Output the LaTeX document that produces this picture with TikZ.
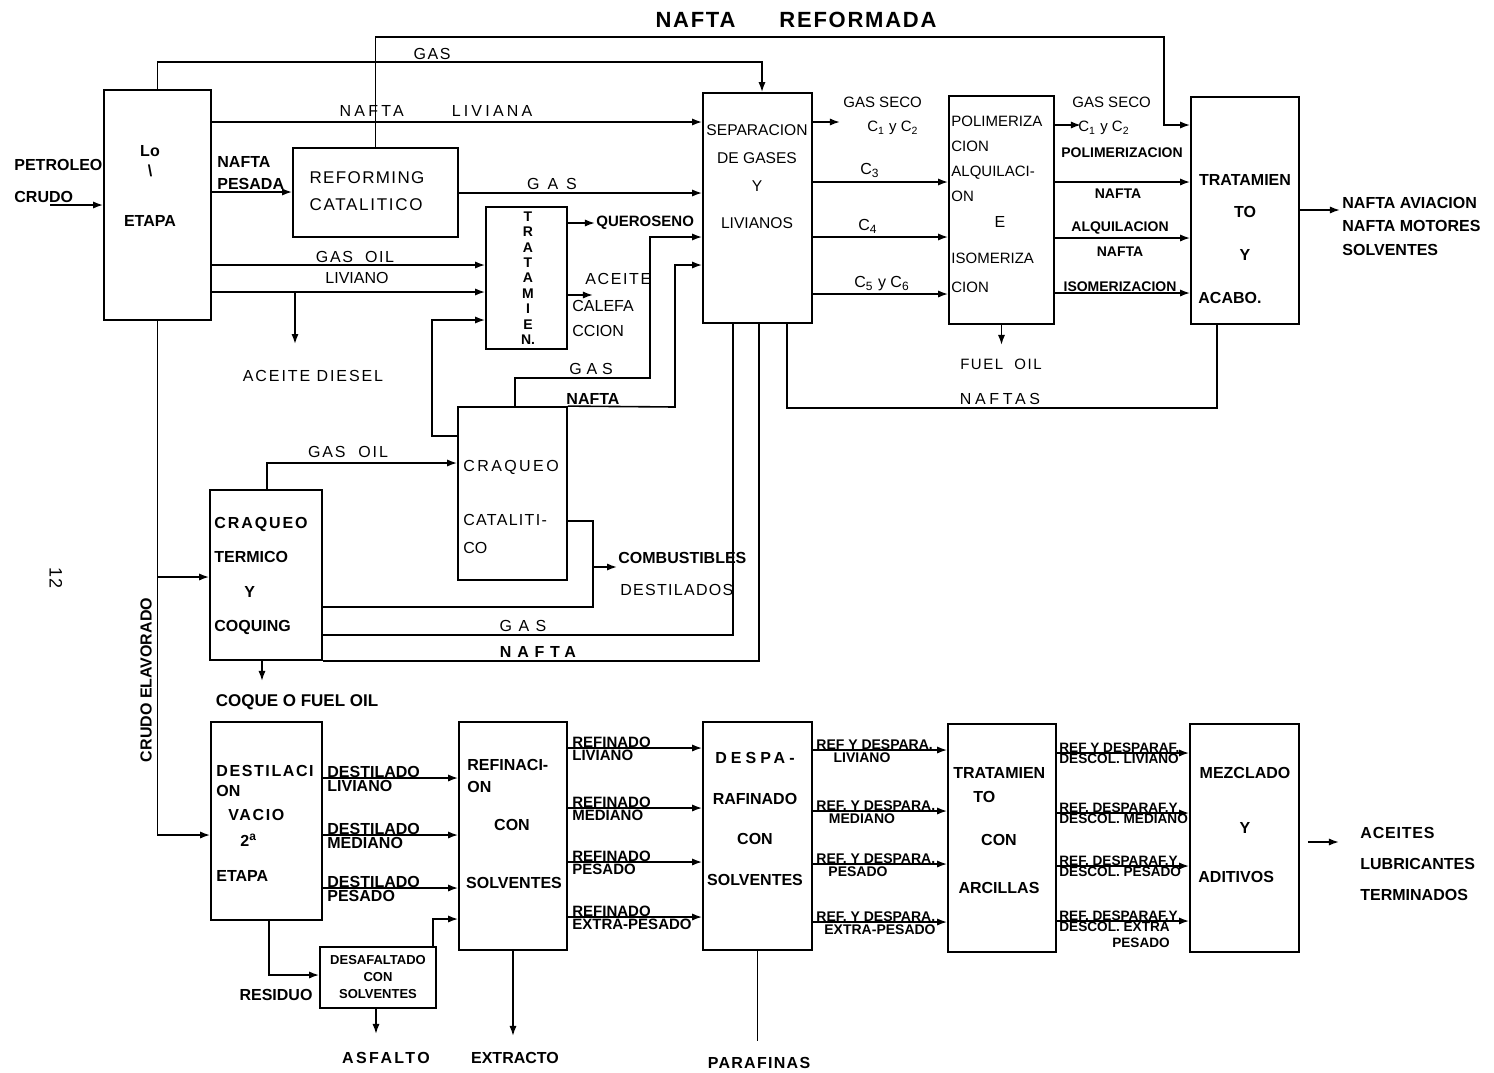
\documentclass[tikz,border=0pt]{standalone}
\usepackage{fontspec}
\setmainfont{Liberation Sans}
\usetikzlibrary{arrows.meta,fit,calc}
\newcommand\lsp[2]{{\addfontfeature{LetterSpace=#1}#2}}

\begin{document}
\begin{tikzpicture}[x=0.5pt,y=-0.5pt,
		box/.style={draw,line width=0.9pt,inner sep=0pt},
		flow/.style={line width=0.8pt,-{Latex[length=5pt,width=3.6pt]}},
		pipe/.style={line width=0.8pt},
		lbl/.style={inner sep=0pt,font=\fontsize{8}{9.6}\selectfont},
		blbl/.style={inner sep=0pt,font=\fontsize{8}{9.6}\selectfont\bfseries},
		tag/.style={inner sep=0pt,font=\fontsize{7}{8}\selectfont\bfseries}
		]
		\fill[white] (0,0) rectangle (1494,1072);
		\useasboundingbox (0,0) rectangle (1494,1072);
		% boxes
		\node[box,fit={(104,90) (211,320)}] (etapa) {};
		\node[box,fit={(293,148) (458,237)}] (reform) {};
		\node[box,fit={(486,207) (567,349)}] (trat) {};
		\node[box,fit={(703,93) (812,323)}] (separ) {};
		\node[box,fit={(949,96) (1054,324)}] (polim) {};
		\node[box,fit={(1191,97) (1299,324)}] (acabo) {};
		\node[box,fit={(458,407) (567,580)}] (catal) {};
		\node[box,fit={(210,490) (322,660)}] (termi) {};
		\node[box,fit={(211,722) (322,920)}] (vacio) {};
		\node[box,fit={(320,947) (436,1008)}] (desasf) {};
		\node[box,fit={(459,722) (567,950)}] (refin) {};
		\node[box,fit={(703,722) (812,950)}] (despar) {};
		\node[box,fit={(948,724) (1056,952)}] (arcil) {};
		\node[box,fit={(1190,724) (1299,952)}] (mezcl) {};
		% box texts
		\node[lbl,font=\fontsize{8}{10}\selectfont\bfseries,align=center] (t-etapa) at (150,186) {Lo\\\textbackslash\\[15pt]ETAPA};
		\node[lbl,font=\fontsize{8.5}{13.5}\selectfont,align=left] (t-reform) at (367,191) {\lsp{8}{REFORMING}\\\lsp{10}{CATALITICO}};
		\node[lbl,font=\fontsize{7}{7.7}\selectfont\bfseries,align=center] (t-trat) at (528,278) {T\\R\\A\\T\\A\\M\\I\\E\\N.};
		\node[lbl,font=\fontsize{7.8}{14}\selectfont,align=center] (t-separ) at (757,177) {SEPARACION\\DE GASES\\Y\\[4.5pt]LIVIANOS};
		\node[lbl,font=\fontsize{7.5}{12.4}\selectfont,anchor=west,align=left] (t-polim) at (951,159) {POLIMERIZA\\CION\\ALQUILACI-\\ON};
		\node[lbl] (t-polim-e) at (1000,222) {E};
		\node[lbl,font=\fontsize{7.5}{14.5}\selectfont,anchor=west,align=left] (t-isom) at (951,273) {ISOMERIZA\\CION};
		\node[blbl,font=\fontsize{8}{16}\selectfont\bfseries,align=center] (t-acabo) at (1245,217) {TRATAMIEN\\TO\\[5.5pt]Y};
		\node[blbl,anchor=west] (t-acabo2) at (1198,298) {ACABO.};
		\node[lbl,font=\fontsize{8}{14}\selectfont,anchor=west,align=left] (t-catal) at (463,507) {\lsp{15}{CRAQUEO}\\[13pt]\lsp{8}{CATALITI-}\\CO};
		\node[blbl,font=\fontsize{8}{17.3}\selectfont\bfseries,anchor=west,align=left] (t-termi) at (214,576) {\lsp{12}{CRAQUEO}\\TERMICO\\\hspace*{15pt}Y\\COQUING};
		\node[blbl,font=\fontsize{8}{10}\selectfont\bfseries,anchor=west,align=left] (t-vacio) at (216,823) {\lsp{10}{DESTILACI}\\ON\\[2pt]\hspace*{6pt}\lsp{10}{VACIO}\\[3pt]\hspace*{12pt}2\textsuperscript{a}\\[7.5pt]ETAPA};
		\node[blbl,font=\fontsize{6.5}{8.5}\selectfont\bfseries,align=center] (t-desasf) at (378,977) {DESAFALTADO\\CON\\SOLVENTES};
		\node[blbl,font=\fontsize{8}{11}\selectfont\bfseries,anchor=west,align=left] (t-refin) at (467,776) {REFINACI-\\ON};
		\node[blbl] (t-refin-con) at (512,825) {CON};
		\node[blbl] (t-refin-solv) at (514,883) {SOLVENTES};
		\node[blbl,font=\fontsize{8}{20.3}\selectfont\bfseries,align=center] (t-despar) at (755,819) {\lsp{25}{DESPA-}\\RAFINADO\\CON\\SOLVENTES};
		\node[blbl,font=\fontsize{8}{12}\selectfont\bfseries,anchor=west,align=left] (t-arcil) at (953,785) {TRATAMIEN\\\hspace*{10pt}TO};
		\node[blbl,font=\fontsize{8}{24}\selectfont\bfseries,align=center] (t-arcil2) at (999,864) {CON\\ARCILLAS};
		\node[blbl,font=\fontsize{8}{27.5}\selectfont\bfseries,align=center] (t-mezcl) at (1245,800) {MEZCLADO\\Y};
		\node[blbl,anchor=west] (t-aditiv) at (1198,877) {ADITIVOS};
		% petroleo crudo
		\node[blbl,anchor=west,align=left,font=\fontsize{8}{16}\selectfont\bfseries] (t-crudo) at (14,181) {PETROLEO\\CRUDO};
		\coordinate (crudo-in) at (50,205);
		\draw[flow] (crudo-in) -- (etapa.west |- crudo-in);
		% upper section
		\draw[flow] (reform.north) |- (1164,37) |- (acabo.west |- 0,125);
		\node[blbl,font=\fontsize{11}{13}\selectfont\bfseries] (t-reformada) at (796,20) {\lsp{8}{NAFTA}\hspace{22pt}\lsp{8}{REFORMADA}};
		\draw[flow] (etapa.north) |- (762,62) -- (separ.north -| 762,0);
		\node[lbl] (t-gas1) at (432,54) {\lsp{10}{GAS}};
		\draw[flow] (etapa.east |- 0,122) -- (separ.west |- 0,122);
		\node[lbl,anchor=south] (t-liviana) at (436,117) {\lsp{20}{NAFTA}\hspace{24pt}\lsp{20}{LIVIANA}};
		\draw[flow] (etapa.east |- 0,192) -- (reform.west |- 0,192);
		\node[blbl,anchor=south west,align=left,font=\fontsize{8}{11}\selectfont\bfseries] (t-pesada) at (217,190) {NAFTA\\PESADA};
		\draw[flow] (reform.east |- 0,193) -- (separ.west |- 0,193);
		\node[lbl,anchor=south] (t-gas2) at (552,190) {\lsp{50}{GAS}};
		\draw[flow] (etapa.east |- 0,265) -- (trat.west |- 0,265);
		\draw[flow] (etapa.east |- 0,292) -- (trat.west |- 0,292);
		\node[lbl,anchor=south] (t-gasoil) at (355,263) {\lsp{10}{GAS\ \ OIL}};
		\node[lbl] (t-liviano) at (357,278) {LIVIANO};
		\coordinate (diesel) at (295,292);
		\draw[flow] (diesel) -- ++(0,52);
		\node[lbl] (t-diesel) at (313,376) {\lsp{12}{ACEITE DIESEL}};
		\draw[flow] (catal.west |- 0,436) -| (432,320) -- (trat.west |- 0,320);
		\draw[flow] (trat.east |- 0,223) -- ++(27,0);
		\node[blbl,anchor=west,font=\fontsize{7.5}{9}\selectfont\bfseries] (t-querosen) at (596,223) {QUEROSENO};
		\draw[flow] (trat.east |- 0,295) -- ++(25,0);
		\node[lbl,anchor=west] (t-aceite) at (585,279) {\lsp{10}{ACEITE}};
		\node[lbl,anchor=west,align=left,font=\fontsize{8}{12.5}\selectfont] (t-calef) at (572,318) {CALEFA\\CCION};
		\draw[flow] (catal.north -| 515,0) |- (650,378) |- (separ.west |- 0,237);
		\node[lbl,anchor=south] (t-gas3) at (591,375) {\lsp{30}{GAS}};
		\draw[flow] (catal.north east) -- (675,407) |- (separ.west |- 0,265);
		\node[blbl,anchor=south] (t-nafta1) at (593,405) {NAFTA};
		% separacion -> polimerizacion
		\draw[flow] (separ.east |- 0,122) -- ++(27,0);
		\node[lbl,anchor=west,align=left,font=\fontsize{7.5}{12}\selectfont] (t-seco1) at (843,116) {GAS SECO\\\hspace*{12pt}C\textsubscript{1} y C\textsubscript{2}};
		\draw[flow] (separ.east |- 0,182) -- (polim.west |- 0,182);
		\node[lbl,anchor=south] (t-c3) at (870,178) {C\textsubscript{3}};
		\draw[flow] (separ.east |- 0,237) -- (polim.west |- 0,237);
		\node[lbl,anchor=south] (t-c4) at (868,234) {C\textsubscript{4}};
		\draw[flow] (separ.east |- 0,294) -- (polim.west |- 0,294);
		\node[lbl,anchor=south] (t-c56) at (882,291) {C\textsubscript{5}\ y\ C\textsubscript{6}};
		% polimerizacion -> acabado
		\draw[flow] (polim.east |- 0,125) -- ++(26,0);
		\node[lbl,anchor=west,align=left,font=\fontsize{7.5}{12}\selectfont] (t-seco2) at (1072,116) {GAS SECO\\\hspace*{3pt}C\textsubscript{1} y C\textsubscript{2}};
		\draw[flow] (polim.east |- 0,182) -- (acabo.west |- 0,182);
		\node[tag] (t-poli) at (1122,153) {POLIMERIZACION};
		\node[tag] (t-naf2) at (1118,194) {NAFTA};
		\draw[flow] (polim.east |- 0,238) -- (acabo.west |- 0,238);
		\node[tag] (t-alqui) at (1120,228) {ALQUILACION};
		\node[tag] (t-naf3) at (1120,252) {NAFTA};
		\draw[flow] (polim.east |- 0,293) -- (acabo.west |- 0,293);
		\node[tag] (t-isomer) at (1120,287) {ISOMERIZACION};
		\draw[flow] (polim.south) -- ++(0,20);
		\node[lbl,font=\fontsize{7.5}{9}\selectfont] (t-fuel) at (1001,364) {\lsp{10}{FUEL\ \ OIL}};
		\draw[flow] (acabo.east |- 0,210) -- ++(40,0);
		\node[blbl,anchor=west,align=left,font=\fontsize{8}{11.75}\selectfont\bfseries] (t-naftas-prod) at (1342,226) {NAFTA AVIACION\\NAFTA MOTORES\\SOLVENTES};
		\draw[pipe] (acabo.south -| 1217,0) |- (787,408) -- (separ.south -| 787,0);
		\node[lbl,anchor=south] (t-naftas) at (1000,405) {\lsp{23}{NAFTAS}};
		% termico y catalitico
		\draw[pipe] (termi.east |- 0,635) -| (separ.south -| 733,0);
		\node[lbl,anchor=south] (t-gas4) at (523,632) {\lsp{40}{GAS}};
		\draw[pipe] (termi.east |- 0,661) -| (separ.south -| 759,0);
		\node[blbl,anchor=south] (t-nafta4) at (538,658) {\lsp{36}{NAFTA}};
		\coordinate (comb) at (593,567);
		\draw[pipe] (catal.east |- 0,521) -| (comb);
		\draw[pipe] (termi.east |- 0,607) -| (comb);
		\draw[flow] (comb) -- ++(24,0);
		\node[blbl,anchor=west] (t-comb) at (618,558) {COMBUSTIBLES};
		\node[lbl,anchor=west] (t-destil) at (620,590) {\lsp{8}{DESTILADOS}};
		\draw[flow] (termi.north -| 267,0) |- (catal.west |- 0,463);
		\node[lbl,anchor=south] (t-gasoil2) at (348,458) {\lsp{12}{GAS\ \ OIL}};
		\draw[flow] (termi.south -| 262,0) -- ++(0,20);
		\node[blbl,font=\fontsize{8.5}{10}\selectfont\bfseries] (t-coque) at (297,702) {COQUE O FUEL OIL};
		% crudo elaborado
		\draw[flow] (etapa.south) |- (vacio.west |- 0,835);
		\coordinate (elab) at (157.5,577);
		\draw[flow] (elab) -- (termi.west |- elab);
		\node[blbl,rotate=90] (t-elab) at (146,680) {CRUDO ELAVORADO};
		\node[lbl,rotate=-90,font=\fontsize{9}{10}\selectfont] (t-page) at (56,578) {12};
		% lower section
		\foreach \y/\word in {778/LIVIANO,835/MEDIANO,888/PESADO}{
			\draw[flow] (vacio.east |- 0,\y) -- (refin.west |- 0,\y);
			\node[blbl,anchor=south west] (t-dest-\y) at (327,\y) {DESTILADO};
			\node[blbl,anchor=north west] (t-destw-\y) at (327,\y+2) {\word};
		}
		\foreach \y/\word in {748/LIVIANO,808/MEDIANO,862/PESADO,917/EXTRA-PESADO}{
			\draw[flow] (refin.east |- 0,\y) -- (despar.west |- 0,\y);
			\node[tag,font=\fontsize{7.5}{9}\selectfont\bfseries,anchor=south west] (t-ref-\y) at (572,\y) {REFINADO};
			\node[tag,font=\fontsize{7.5}{9}\selectfont\bfseries,anchor=north west] (t-refw-\y) at (572,\y+2) {\word};
		}
		\foreach \y/\top/\x/\word in {750/{REF Y DESPARA.}/862/LIVIANO,811/{REF. Y DESPARA.}/862/MEDIANO,864/{REF. Y DESPARA.}/858/PESADO,922/{REF. Y DESPARA.}/880/EXTRA-PESADO}{
			\draw[flow] (despar.east |- 0,\y) -- (arcil.west |- 0,\y);
			\node[tag,anchor=south west] (t-dpa-\y) at (816,\y) {\top};
			\node[tag,anchor=north] (t-dpaw-\y) at (\x,\y+2) {\word};
		}
		\foreach \y/\top/\word in {753/{REF Y DESPARAF.}/{DESCOL. LIVIANO},813/{REF. DESPARAF.Y}/{DESCOL. MEDIANO},866/{REF. DESPARAF.Y}/{DESCOL. PESADO},921/{REF. DESPARAF.Y}/{DESCOL. EXTRA\\PESADO}}{
			\draw[flow] (arcil.east |- 0,\y) -- (mezcl.west |- 0,\y);
			\node[tag,font=\fontsize{6.8}{8}\selectfont\bfseries,anchor=south west] (t-arc-\y) at (1059,\y) {\top};
			\node[tag,font=\fontsize{6.8}{8}\selectfont\bfseries,anchor=north west,align=right] (t-arcw-\y) at (1059,\y+1) {\word};
		}
		\draw[flow] (desasf.north -| 433,0) |- (refin.west |- 0,919);
		\draw[flow] (vacio.south -| 269,0) |- (desasf.west |- 0,975);
		\node[blbl] (t-residuo) at (276,995) {RESIDUO};
		\draw[flow] (desasf.south -| 376,0) -- ++(0,25);
		\node[blbl] (t-asfalto) at (386,1058) {\lsp{15}{ASFALTO}};
		\draw[flow] (refin.south) -- ++(0,85);
		\node[blbl] (t-extracto) at (515,1058) {EXTRACTO};
		\draw[pipe] (despar.south) -- ++(0,90);
		\node[blbl] (t-parafin) at (759,1063) {\lsp{8}{PARAFINAS}};
		\draw[flow] (mezcl.east |- 0,842) ++(8,0) -- ++(31,0);
		\node[blbl,anchor=west,align=left,font=\fontsize{8}{15.5}\selectfont\bfseries] (t-aceites) at (1360,864) {\lsp{5}{ACEITES}\\LUBRICANTES\\TERMINADOS};
	\end{tikzpicture}
\end{document}
